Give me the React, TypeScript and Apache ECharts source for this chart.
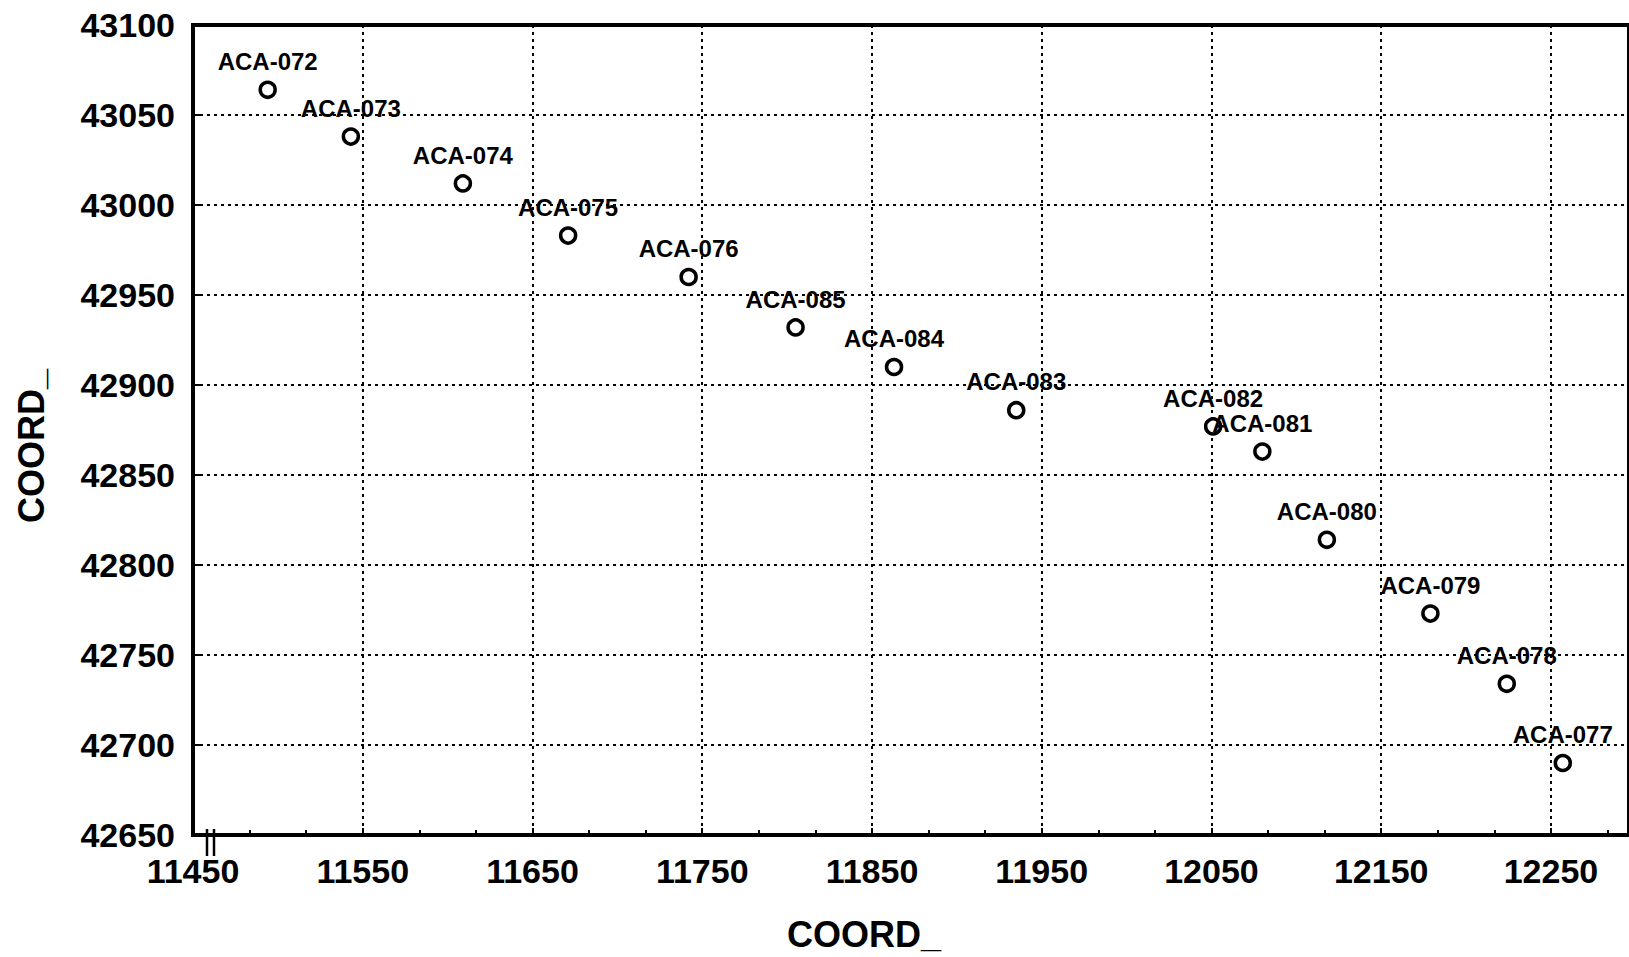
import React, { useEffect, useRef } from "react";
import * as echarts from "echarts";

const names = [
  "ACA-072", "ACA-073", "ACA-074", "ACA-075", "ACA-076", "ACA-085", "ACA-084",
  "ACA-083", "ACA-082", "ACA-081", "ACA-080", "ACA-079", "ACA-078", "ACA-077",
];
const xs = [11494, 11543, 11609, 11671, 11742, 11805, 11863, 11935, 12051, 12080, 12118, 12179, 12224, 12257];
const ys = [43064, 43038, 43012, 42983, 42960, 42932, 42910, 42886, 42877, 42863, 42814, 42773, 42734, 42690];

const xTitle = "COORD_";
const yTitle = "COORD_";

const FONT = "'Liberation Sans', Arial, Helvetica, sans-serif";

export default function App() {
  const ref = useRef<HTMLDivElement>(null);
  useEffect(() => {
    if (!ref.current) return;
    const chart = echarts.init(ref.current, null, { renderer: "svg" });
    const data = names.map((n, i) => ({ name: n, value: [xs[i], ys[i]] }));
    const gridLine = { show: true, lineStyle: { color: "#000", type: [3, 4], width: 2 } };
    const plain = (v: number) => String(Math.round(v));
    chart.setOption({
      animation: false,
      backgroundColor: "#fff",
      grid: {
        left: 193, top: 25, width: 1442, height: 817, containLabel: false,
        show: true, borderColor: "#000", borderWidth: 4, backgroundColor: "transparent",
      },
      xAxis: {
        type: "value",
        min: 11450,
        max: 12296,
        interval: 100,
        name: xTitle,
        nameLocation: "middle",
        nameGap: 81,
        nameTextStyle: {
          fontFamily: FONT, fontWeight: "bold", fontSize: 36, color: "#000",
          padding: [0, 94, 0, 0],
        },
        axisLine: { show: true, onZero: false, lineStyle: { color: "#000", width: 4 } },
        axisTick: { show: true, inside: true, length: 7, lineStyle: { color: "#000", width: 2 } },
        minorTick: { show: true, splitNumber: 3, length: 5, lineStyle: { color: "#000", width: 2 } },
        axisLabel: {
          fontFamily: FONT, fontWeight: "bold", fontSize: 34, color: "#000", margin: 19,
          showMaxLabel: false, formatter: plain,
        },
        splitLine: gridLine,
      },
      yAxis: {
        type: "value",
        min: 42650,
        max: 43100,
        interval: 50,
        name: yTitle,
        nameLocation: "middle",
        nameGap: 144,
        nameRotate: 90,
        nameTextStyle: {
          fontFamily: FONT, fontWeight: "bold", fontSize: 36, color: "#000",
          padding: [0, 32, 0, 0],
        },
        axisLine: { show: true, onZero: false, lineStyle: { color: "#000", width: 4 } },
        axisTick: { show: true, inside: true, length: 7, lineStyle: { color: "#000", width: 2 } },
        axisLabel: { fontFamily: FONT, fontWeight: "bold", fontSize: 34, color: "#000", margin: 18, formatter: plain },
        splitLine: gridLine,
      },
      graphic: [
        { type: "line", shape: { x1: 207, y1: 829, x2: 207, y2: 856 }, style: { stroke: "#000", lineWidth: 2.5 }, z: 100 },
        { type: "line", shape: { x1: 214, y1: 829, x2: 214, y2: 856 }, style: { stroke: "#000", lineWidth: 2.5 }, z: 100 },
      ],
      series: [
        {
          type: "scatter",
          symbol: "circle",
          symbolSize: 15,
          itemStyle: { color: "#fff", borderColor: "#000", borderWidth: 3.5, opacity: 1 },
          label: {
            show: true,
            position: "top",
            distance: 7,
            formatter: "{b}",
            fontFamily: FONT,
            fontWeight: "bold",
            fontSize: 24,
            color: "#000",
          },
          data,
          z: 10,
        },
      ],
    });
    return () => chart.dispose();
  }, []);
  return (
    <div
      ref={ref}
      style={{ position: "absolute", left: 0, top: 0, width: 1629, height: 957, background: "#fff" }}
    />
  );
}
